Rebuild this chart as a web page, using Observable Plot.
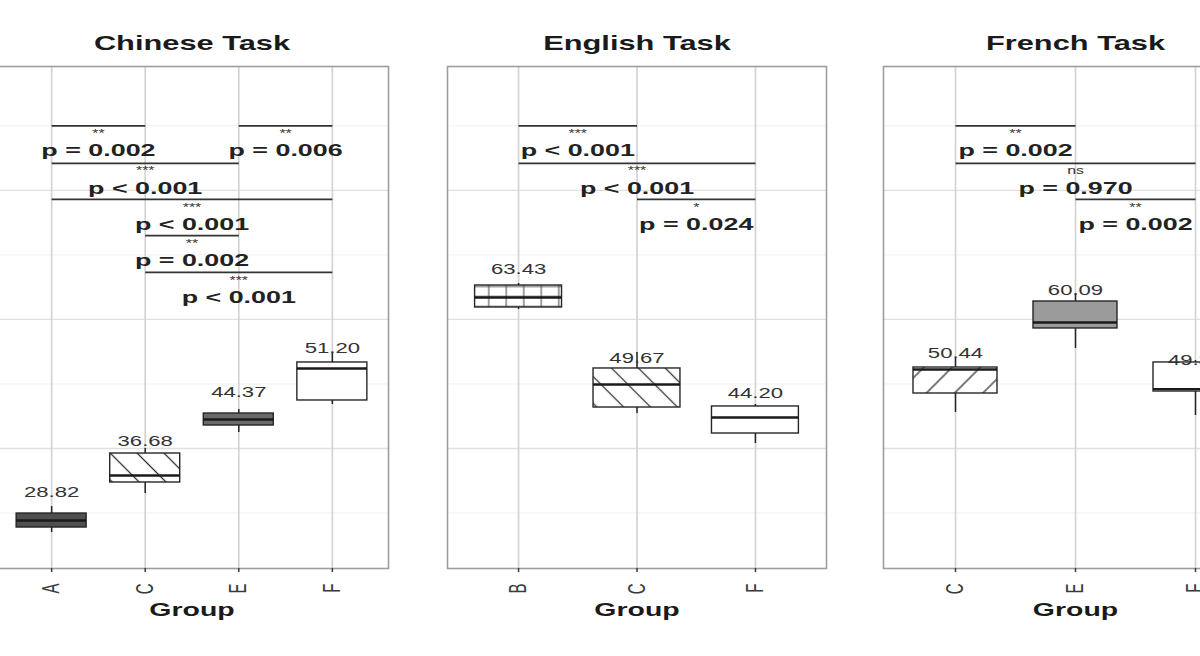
<!DOCTYPE html>
<html>
<head>
<meta charset="utf-8">
<script src="https://cdn.jsdelivr.net/npm/d3@7"></script>
<script src="https://cdn.jsdelivr.net/npm/@observablehq/plot@0.6"></script>
<style>
html, body { margin: 0; padding: 0; background: #fff; overflow: hidden; }
#chart { position: relative; width: 1200px; height: 656px; overflow: hidden; background: #fff; }
</style>
</head>
<body>
<svg width="0" height="0" style="position:absolute;left:0;top:0">
  <defs>
    <pattern id="stripeBack" patternUnits="userSpaceOnUse" width="19" height="19" patternTransform="rotate(-45)">
      <rect width="19" height="19" fill="#ffffff"/>
      <line x1="9.5" y1="0" x2="9.5" y2="19" stroke="#333" stroke-width="1.3"/>
    </pattern>
    <pattern id="stripeFwd" patternUnits="userSpaceOnUse" width="20" height="20" patternTransform="rotate(45)">
      <rect width="20" height="20" fill="#ffffff"/>
      <line x1="10" y1="0" x2="10" y2="20" stroke="#333" stroke-width="1.3"/>
    </pattern>
    <pattern id="crossGrid" patternUnits="userSpaceOnUse" width="17.5" height="10" x="0" y="1.5">
      <rect width="17.5" height="10" fill="#ffffff"/>
      <line x1="8.75" y1="0" x2="8.75" y2="10" stroke="#444" stroke-width="1"/>
      <line x1="0" y1="5" x2="17.5" y2="5" stroke="#444" stroke-width="1"/>
    </pattern>
  </defs>
</svg>
<div id="chart"></div>
<script>
// ---------- data ----------
const chineseGroups = ["A", "C", "E", "F"];
const chineseLow    = [26.98, 33.02, 42.48, 46.82];
const chineseQ1     = [27.75, 34.73, 43.56, 47.44];
const chineseMedian = [28.84, 35.81, 44.49, 52.40];
const chineseQ3     = [29.92, 39.22, 45.42, 53.33];
const chineseHigh   = [31.01, 40.00, 46.04, 54.88];
const chineseMeans  = [28.82, 36.68, 44.37, 51.20];
const chinesePairs  = [["A", "C"], ["E", "F"], ["A", "E"], ["A", "F"], ["C", "E"], ["C", "F"]];
const chineseLevels = [90.0, 90.0, 84.2, 78.6, 73.0, 67.3];
const chineseStars  = ["**", "**", "***", "***", "**", "***"];
const chinesePvals  = ["p = 0.002", "p = 0.006", "p < 0.001", "p < 0.001", "p = 0.002", "p < 0.001"];

const englishGroups = ["B", "C", "F"];
const englishLow    = [61.54, 45.42, 40.77];
const englishQ1     = [61.85, 46.35, 42.32];
const englishMedian = [63.40, 49.92, 44.80];
const englishQ3     = [65.26, 52.40, 46.51];
const englishHigh   = [65.57, 54.88, 46.82];
const englishMeans  = [63.43, 49.67, 44.20];
const englishPairs  = [["B", "C"], ["B", "F"], ["C", "F"]];
const englishLevels = [90.0, 84.2, 78.6];
const englishStars  = ["***", "***", "*"];
const englishPvals  = ["p < 0.001", "p < 0.001", "p = 0.024"];

const frenchGroups = ["C", "E", "F"];
const frenchLow    = [45.58, 55.50, 45.11];
const frenchQ1     = [48.52, 58.60, 48.83];
const frenchMedian = [52.24, 59.53, 49.20];
const frenchQ3     = [52.55, 62.78, 53.33];
const frenchHigh   = [53.95, 64.02, 53.64];
const frenchMeans  = [50.44, 60.09, 49.35];
const frenchPairs  = [["C", "E"], ["C", "F"], ["E", "F"]];
const frenchLevels = [90.0, 84.2, 78.6];
const frenchStars  = ["**", "ns", "**"];
const frenchPvals  = ["p = 0.002", "p = 0.970", "p = 0.002"];

const majorTicks = [40, 60, 80];
const minorTicks = [30, 50, 70, 90];
const yDomain = [21.4, 99.2];

// ---------- styles ----------
const boxFills = {
  Chinese: ["#4f4f4f", "url(#stripeBack)", "#6a6a6a", "#ffffff"],
  English: ["url(#crossGrid)", "url(#stripeBack)", "#ffffff"],
  French:  ["url(#stripeFwd)", "#9b9b9b", "#ffffff"]
};
const FONT = '"Liberation Sans", Arial, Helvetica, sans-serif';
const STRETCH = 1.58;

function stretchText(svg, s) {
  svg.querySelectorAll("text").forEach(t => {
    const tr = t.getAttribute("transform") || "";
    const m = tr.match(/^\s*translate\(([^)]*)\)(.*)$/);
    if (m) {
      t.setAttribute("transform", `translate(${m[1]}) scale(${s},1)${m[2]}`);
    } else {
      const x = +(t.getAttribute("x") || 0), y = +(t.getAttribute("y") || 0);
      t.setAttribute("transform", `translate(${x},${y}) scale(${s},1) translate(${-x},${-y}) ${tr}`);
    }
  });
}

function panel(cfg) {
  const {title, groups, low, q1, med, q3, high, means, pairs, levels, stars, pvals,
         fills, frameLeft, frameWidth, halfWidth} = cfg;
  const n = groups.length;
  const idx = d3.range(n);
  const boxes = idx.map(i => ({i, low: low[i], q1: q1[i], med: med[i], q3: q3[i], high: high[i], mean: means[i], fill: fills[i]}));
  const brackets = pairs.map((p, k) => ({a: groups.indexOf(p[0]), b: groups.indexOf(p[1]), y: levels[k], star: stars[k], p: pvals[k]}));
  const ml = 2, mr = 2;
  const uniqueFills = [...new Set(fills)];
  const marks = [
    Plot.ruleY(minorTicks, {stroke: "#f0f0f0", strokeWidth: 1}),
    Plot.ruleY(majorTicks, {stroke: "#e0e0e0", strokeWidth: 1.3}),
    Plot.ruleX(idx, {stroke: "#d3d3d3", strokeWidth: 1.7}),
    Plot.frame({stroke: "#9e9e9e", strokeWidth: 1.6}),
    Plot.ruleX(boxes, {x: "i", y1: "low", y2: "high", stroke: "#262626", strokeWidth: 1.5}),
    ...uniqueFills.map(f => Plot.rect(boxes.filter(d => d.fill === f), {
      x1: d => d.i - halfWidth, x2: d => d.i + halfWidth, y1: "q1", y2: "q3",
      fill: f, stroke: "#262626", strokeWidth: 1.4
    })),
    Plot.ruleY(boxes, {x1: d => d.i - halfWidth, x2: d => d.i + halfWidth, y: "med", stroke: "#1a1a1a", strokeWidth: 2.4}),
    Plot.text(boxes, {x: "i", y: "mean", text: d => d.mean.toFixed(2), dy: -28, fontSize: 14, fill: "#333"}),
    Plot.link(brackets, {x1: "a", x2: "b", y1: "y", y2: "y", stroke: "#333", strokeWidth: 1.7}),
    Plot.text(brackets, {x: d => (d.a + d.b) / 2, y: "y", text: "star", dy: 8, fontSize: 10, fill: "#333"}),
    Plot.text(brackets, {x: d => (d.a + d.b) / 2, y: "y", text: "p", dy: 25, fontSize: 17, fontWeight: "bold", fill: "#222"}),
    Plot.axisX({ticks: idx, tickFormat: i => groups[i], tickRotate: -90, tickSize: 4, tickPadding: 11,
                fontSize: 15, label: null, color: "#3a3a3a", strokeWidth: 1.5}),
    Plot.text([title], {text: d => d, frameAnchor: "top", lineAnchor: "middle", dy: -23, fontSize: 19.5, fontWeight: "bold", fill: "#1a1a1a"}),
    Plot.text(["Group"], {text: d => d, frameAnchor: "bottom", lineAnchor: "middle", dy: 42, fontSize: 18, fontWeight: "bold", fill: "#1a1a1a"})
  ];
  const svg = Plot.plot({
    width: ml + frameWidth + mr,
    height: 656,
    marginTop: 66,
    marginBottom: 88,
    marginLeft: ml,
    marginRight: mr,
    style: {background: "transparent", overflow: "visible", fontFamily: FONT, position: "absolute", top: "0px", left: (frameLeft - ml) + "px", maxWidth: "none"},
    x: {type: "linear", domain: [-0.6, n - 0.4], axis: null},
    y: {type: "linear", domain: yDomain, axis: null},
    marks
  });
  stretchText(svg, STRETCH);
  return svg;
}

const chart = document.getElementById("chart");
chart.appendChild(panel({
  title: "Chinese Task", groups: chineseGroups, low: chineseLow, q1: chineseQ1, med: chineseMedian,
  q3: chineseQ3, high: chineseHigh, means: chineseMeans, pairs: chinesePairs, levels: chineseLevels,
  stars: chineseStars, pvals: chinesePvals, fills: boxFills.Chinese,
  frameLeft: -5, frameWidth: 393, halfWidth: 0.374
}));
chart.appendChild(panel({
  title: "English Task", groups: englishGroups, low: englishLow, q1: englishQ1, med: englishMedian,
  q3: englishQ3, high: englishHigh, means: englishMeans, pairs: englishPairs, levels: englishLevels,
  stars: englishStars, pvals: englishPvals, fills: boxFills.English,
  frameLeft: 447, frameWidth: 379, halfWidth: 0.367
}));
chart.appendChild(panel({
  title: "French Task", groups: frenchGroups, low: frenchLow, q1: frenchQ1, med: frenchMedian,
  q3: frenchQ3, high: frenchHigh, means: frenchMeans, pairs: frenchPairs, levels: frenchLevels,
  stars: frenchStars, pvals: frenchPvals, fills: boxFills.French,
  frameLeft: 883, frameWidth: 384, halfWidth: 0.35
}));
</script>
</body>
</html>
